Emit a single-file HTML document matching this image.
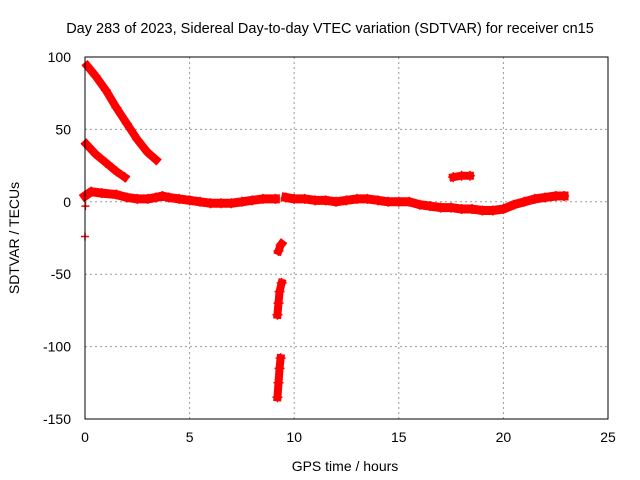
<!DOCTYPE html>
<html><head><meta charset="utf-8"><style>body{margin:0;background:#fff}svg{display:block;font-family:"Liberation Sans",sans-serif}</style></head>
<body>
<svg id="c" width="640" height="480"></svg>
<script>
const xTicks=[0,5,10,15,20,25];
const yTicks=[100,50,0,-50,-100,-150];
const segA=[[0.1,94],[0.5,87],[1,77],[1.5,65],[2,54],[2.5,43],[3,34],[3.4,29]];
const segB=[[0.05,40],[0.5,33],[1,27],[1.5,21],[1.9,17]];
const segMain1=[[0,4],[0.3,7],[0.8,6],[1.5,5],[2,3],[2.5,2],[3,2],[3.4,3],[3.7,4],[4,3],[4.5,2],[5,1],[5.5,0],[6,-1],[6.5,-1],[7,-1],[7.5,0],[8,1],[8.5,2],[9.1,2]];
const segMain2=[[9.6,3],[10,2],[10.5,2],[11,1],[11.5,1],[12,0],[12.5,1],[13,2],[13.5,2],[14,1],[14.5,0],[15,0],[15.5,0],[16,-2],[16.5,-3],[17,-4],[17.5,-4],[18,-5],[18.5,-5],[19,-6],[19.5,-6],[20,-5],[20.5,-2],[21,0],[21.5,2],[22,3],[22.5,4],[22.9,4]];
const segDip1=[[9.25,-34],[9.35,-30],[9.4,-29]];
const segDip2=[[9.2,-78],[9.25,-70],[9.3,-62],[9.4,-56]];
const segDip3=[[9.2,-135],[9.25,-125],[9.3,-115],[9.35,-108]];
const segHigh=[[17.6,17],[18,18],[18.4,18]];
const outliers=[[0,-24],[0.02,-3]];
const L=85,R=608,T=57,B=419,XMIN=0,XMAX=25,YMIN=-150,YMAX=100;
const sx=v=>L+(v-XMIN)/(XMAX-XMIN)*(R-L);
const sy=v=>B-(v-YMIN)/(YMAX-YMIN)*(B-T);
const svg=document.getElementById('c');const NS='http://www.w3.org/2000/svg';
function mk(t,a,p){const e=document.createElementNS(NS,t);for(const k in a)e.setAttribute(k,a[k]);(p||svg).appendChild(e);return e;}
xTicks.forEach(t=>{const x=sx(t);
 if(t>XMIN&&t<XMAX){const g=mk('line',{x1:x,x2:x,y1:T,y2:B,stroke:'#999','stroke-dasharray':'2,3'});}
 const tl=mk('text',{x:x,y:B+23,'text-anchor':'middle','font-size':14});tl.textContent=t;
 });
yTicks.forEach(t=>{const y=sy(t);
 if(t>YMIN&&t<YMAX){const g=mk('line',{x1:L,x2:R,y1:y,y2:y,stroke:'#999','stroke-dasharray':'2,3'});}
 const tl=mk('text',{x:L-14,y:y+5,'text-anchor':'end','font-size':14});tl.textContent=t;
 });
[segA,segB,segMain1,segMain2,segDip1,segDip2,segDip3,segHigh].forEach((s,i)=>{
 const w=(i===2||i===3)?9:8;
 const pl=mk('polyline',{points:s.map(p=>sx(p[0])+','+sy(p[1])).join(' '),fill:'none',stroke:'#f00','stroke-width':w,'stroke-linejoin':'round','stroke-linecap':'square'});
 
 s.forEach(p=>{const x=sx(p[0]),y=sy(p[1]);const m=mk('path',{d:`M${x-5},${y}h10M${x},${y-5}v10`,stroke:'#f00','stroke-width':1.5});
  });});
outliers.forEach(p=>{const x=sx(p[0]),y=sy(p[1]);const m=mk('path',{d:`M${x-4},${y}h8M${x},${y-4}v8`,stroke:'#f00','stroke-width':1.5});
 });
const fr=mk('rect',{x:L,y:T,width:R-L,height:B-T,fill:'none',stroke:'#000','stroke-width':1});

const ti=mk('text',{x:330,y:33,'text-anchor':'middle','font-size':14.5});ti.textContent='Day 283 of 2023, Sidereal Day-to-day VTEC variation (SDTVAR) for receiver cn15';

const xt=mk('text',{x:345,y:471,'text-anchor':'middle','font-size':14});xt.textContent='GPS time / hours';

const yt=mk('text',{x:0,y:0,'text-anchor':'middle','font-size':14,transform:'translate(19,238) rotate(-90)'});yt.textContent='SDTVAR / TECUs';

</script>
</body></html>
